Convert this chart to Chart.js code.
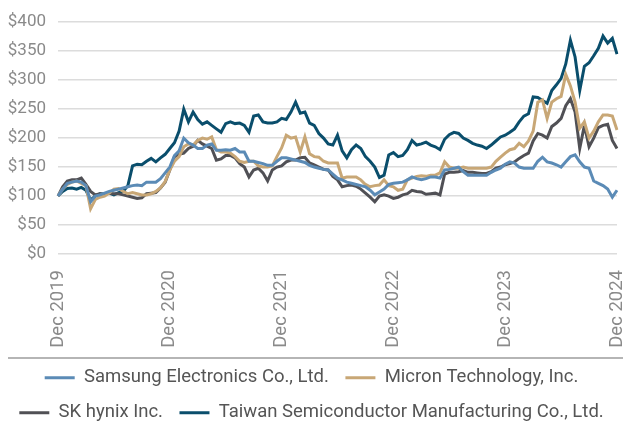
<!DOCTYPE html>
<html><head><meta charset="utf-8">
<script src="https://cdn.jsdelivr.net/npm/chart.js@4"></script>
<style>html,body{margin:0;padding:0;background:#fff}</style>
</head><body>
<canvas id="c" width="623" height="423"></canvas>
<script>
const tickLabels = ['Dec 2019','Dec 2020','Dec 2021','Dec 2022','Dec 2023','Dec 2024'];
const seriesNames = ['Samsung Electronics Co., Ltd.','Micron Technology, Inc.','SK hynix Inc.','Taiwan Semiconductor Manufacturing Co., Ltd.'];
const samsung = [100,112,122,124,126,124,118,90,100,102,105,108,110,112,114,116,118,119,118,124,124,124,130,140,150,170,178,200,192,188,182,182,188,190,179,179,180,179,182,176,176,160,160,158,156,153,153,160,166,166,164,162,160,158,153,150,148,146,145,138,131,128,124,122,120,118,116,110,102,107,112,120,122,123,124,128,133,130,128,130,133,133,131,145,146,148,150,142,136,136,136,136,136,141,145,148,155,159,157,150,148,148,148,160,167,159,157,154,150,159,168,171,159,150,148,126,122,118,112,98,110];
const micron = [100,112,120,124,126,122,118,78,94,98,100,105,112,113,108,104,106,104,102,102,104,108,114,125,145,160,168,185,190,188,196,200,198,202,180,176,176,174,168,160,158,160,160,152,150,150,152,168,183,205,200,202,176,202,173,168,167,160,157,157,157,131,133,133,133,128,120,116,118,119,128,118,116,110,112,128,131,134,135,134,136,136,140,159,150,148,148,150,148,148,148,148,148,150,160,167,174,180,182,191,185,195,212,262,266,234,262,268,272,310,290,262,217,228,200,212,228,240,240,238,214];
const skhynix = [100,116,126,128,128,131,120,108,102,104,103,105,104,104,102,100,98,96,97,104,105,106,114,124,145,168,172,174,182,186,196,190,186,182,162,164,170,170,166,156,150,133,145,148,140,126,145,150,152,159,162,162,166,167,157,154,150,146,145,134,128,116,118,119,117,112,105,98,90,100,102,100,96,98,102,104,110,108,107,103,104,105,102,138,141,141,142,144,141,141,140,139,139,142,148,150,154,156,159,165,170,174,195,208,205,200,220,226,234,256,268,245,182,222,185,200,218,222,224,196,182];
const tsmc = [100,108,113,114,112,115,110,93,100,104,103,105,102,106,108,118,152,155,154,160,165,159,166,172,182,192,212,250,228,245,232,224,228,222,216,210,225,228,225,226,222,210,238,240,228,226,226,228,234,232,245,262,243,245,226,222,208,200,190,188,205,178,166,180,188,182,168,160,150,132,136,171,175,168,170,180,196,188,190,193,188,185,180,198,206,210,208,200,196,191,188,186,182,188,195,202,205,210,216,228,238,242,271,270,265,260,282,292,303,328,369,340,282,324,330,342,355,376,364,372,345];
const yTicks = [0,50,100,150,200,250,300,350,400];

// semi-monthly period labels from Dec 2019 to Dec 2024
const months = ['Jan','Feb','Mar','Apr','May','Jun','Jul','Aug','Sep','Oct','Nov','Dec'];
const periods = tsmc.map((_, i) => {
  const m = 11 + Math.floor(i / 2);
  return (i % 2 ? 'mid ' : 'end ') + months[m % 12] + ' ' + (2019 + Math.floor(m / 12));
});

const colors = ['#5b8bb6', '#c8a776', '#505055', '#0a4e6c'];
const FONT = 'Roboto, "Open Sans", sans-serif';

const sepLine = {
  id: 'sepLine',
  afterDraw(chart) {
    const ctx = chart.ctx;
    const y = chart.legend.top + 6;
    ctx.save();
    ctx.strokeStyle = '#9c9c9c';
    ctx.lineWidth = 1.5;
    ctx.beginPath();
    ctx.moveTo(8, y);
    ctx.lineTo(chart.width, y);
    ctx.stroke();
    ctx.restore();
  }
};

const mk = (label, data, color) => ({
  label, data, borderColor: color, backgroundColor: color,
  borderWidth: 3, pointRadius: 0, tension: 0, fill: false
});

new Chart(document.getElementById('c'), {
  type: 'line',
  data: {
    labels: periods,
    datasets: [
      mk(seriesNames[0], samsung, colors[0]),
      mk(seriesNames[1], micron, colors[1]),
      mk(seriesNames[2], skhynix, colors[2]),
      mk(seriesNames[3], tsmc, colors[3])
    ]
  },
  options: {
    responsive: false,
    animation: false,
    layout: { padding: { top: 22, right: 0, bottom: -9, left: 0 } },
    plugins: {
      tooltip: { enabled: false },
      legend: {
        position: 'bottom',
        labels: {
          usePointStyle: true,
          pointStyle: 'line',
          pointStyleWidth: 30,
          padding: 16.5,
          color: '#555',
          font: { family: FONT, size: 18.5 }
        }
      }
    },
    scales: {
      x: {
        type: 'category',
        grid: { display: false },
        border: { display: false },
        afterFit(s) { s.height = 98; s.paddingRight = 6; s.paddingLeft = 0; },
        ticks: {
          autoSkip: false,
          minRotation: 90, maxRotation: 90,
          padding: 8,
          color: '#8a8a8a',
          font: { family: FONT, size: 18.5 },
          callback(v, i) { return i % 24 === 0 ? tickLabels[i / 24] : null; }
        }
      },
      y: {
        min: 0, max: 400,
        afterFit(s) { s.width = 58; },
        afterBuildTicks(s) { s.ticks = yTicks.map(v => ({ value: v })); },
        grid: { color: '#dcdcdc', lineWidth: 1.5, drawTicks: false },
        border: { display: false },
        ticks: {
          padding: 12,
          color: '#8a8a8a',
          font: { family: FONT, size: 17 },
          callback(v) { return '$' + v; }
        }
      }
    }
  },
  plugins: [sepLine]
});
</script>
</body></html>
